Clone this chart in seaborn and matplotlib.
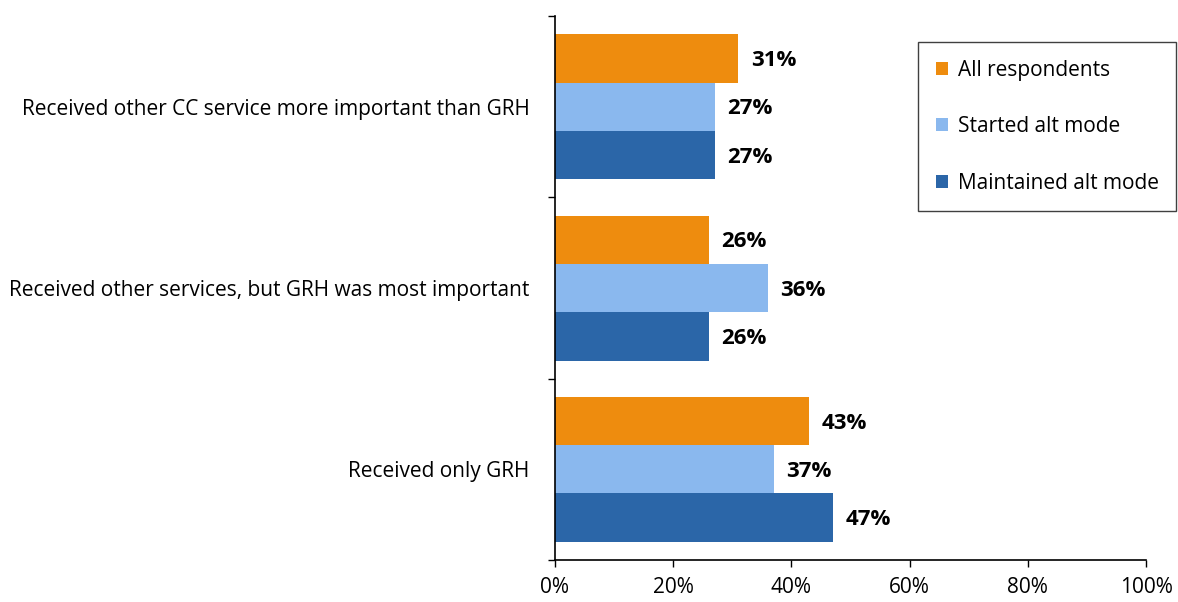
import matplotlib
matplotlib.use("Agg")
import matplotlib.pyplot as plt
from matplotlib.ticker import FixedLocator, PercentFormatter
import seaborn as sns
import pandas as pd

categories = [
    "Received other CC service more important than GRH",
    "Received other services, but GRH was most important",
    "Received only GRH",
]
series = ["All respondents", "Started alt mode", "Maintained alt mode"]
all_respondents = [0.31, 0.26, 0.43]
started_alt = [0.27, 0.36, 0.37]
maintained_alt = [0.27, 0.26, 0.47]
x_ticks = [0.0, 0.2, 0.4, 0.6, 0.8, 1.0]

colors = ["#EE8C0E", "#8AB8EE", "#2B66A8"]

rows = []
for s, vals in zip(series, [all_respondents, started_alt, maintained_alt]):
    for c, v in zip(categories, vals):
        rows.append({"category": c, "series": s, "value": v})
df = pd.DataFrame(rows)

sns.set_theme(style="white")
plt.rcParams["font.family"] = ["Open Sans", "DejaVu Sans"]

fig = plt.figure(figsize=(11.78, 6.02), dpi=100)
ax = fig.add_axes([0.471, 0.070, 0.502, 0.903])

sns.barplot(
    data=df, y="category", x="value", hue="series",
    order=categories, hue_order=series, palette=colors,
    orient="h", width=0.8, saturation=1, errorbar=None, ax=ax,
    edgecolor="none", legend=True,
)

# value labels at bar ends
for container in ax.containers:
    for bar in container:
        w = bar.get_width()
        ax.annotate(
            f"{w * 100:.0f}%",
            xy=(w, bar.get_y() + bar.get_height() / 2),
            xytext=(9, -1.5), textcoords="offset points",
            va="center", ha="left", fontsize=16, fontweight="bold", color="black",
        )

ax.set_xlim(0, 1)
ax.set_ylim(len(categories) - 0.5, -0.5)
ax.xaxis.set_major_locator(FixedLocator(x_ticks))
ax.xaxis.set_major_formatter(PercentFormatter(1.0, decimals=0))
ax.set_xlabel("")
ax.set_ylabel("")

# category labels centred, tick marks at category boundaries
ax.yaxis.set_minor_locator(FixedLocator([-0.5, 0.5, 1.5, 2.5]))
ax.tick_params(axis="y", which="major", length=0, labelsize=15, pad=18, colors="black")
ax.tick_params(axis="y", which="minor", length=5, width=1, color="black", left=True)
ax.tick_params(axis="x", which="major", length=5, width=1, color="black",
               bottom=True, labelsize=15, pad=7, labelcolor="black")

for side in ["top", "right"]:
    ax.spines[side].set_visible(False)
for side in ["left", "bottom"]:
    ax.spines[side].set_color("black")
    ax.spines[side].set_linewidth(1.2)

leg = ax.legend(
    loc="upper left", bbox_to_anchor=(918 / 1178, 1 - 42 / 602),
    bbox_transform=fig.transFigure, frameon=True, fancybox=False,
    edgecolor="#404040", framealpha=1, fontsize=15,
    handlelength=0.6, handleheight=0.6, handletextpad=0.45,
    labelspacing=1.7, borderpad=0.85, borderaxespad=0, title=None,
    labelcolor="black",
)
leg.get_frame().set_linewidth(1.0)

fig.savefig("out.png", dpi=100)
